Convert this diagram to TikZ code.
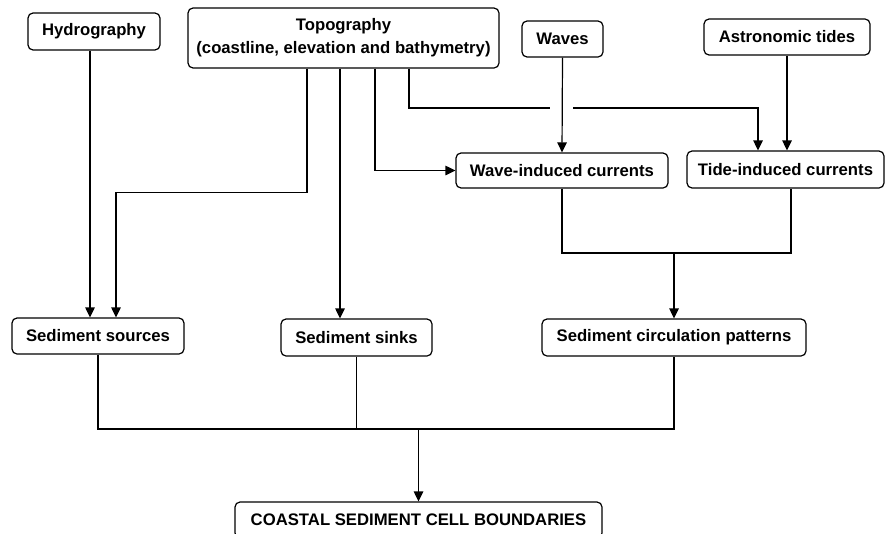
\documentclass[tikz,border=0pt]{standalone}
\usepackage{fontspec}
\setmainfont{Liberation Sans}
\usetikzlibrary{arrows.meta}
\begin{document}
\begin{tikzpicture}[x=1pt,y=-1pt,
  box/.style={draw, rounded corners=5pt, line width=1.2pt, inner sep=0pt, align=center,
    font=\fontsize{16.7}{23}\selectfont\bfseries},
  conn/.style={line width=1.2pt},
  arr/.style={conn, -{Triangle[length=10pt,width=9.5pt]}}]
\useasboundingbox (0,0) rectangle (885,533);
\clip (0,0) rectangle (885,533);
\node[box, minimum width=132pt, minimum height=37pt] (hydro) at (94,31.5) {Hydrography};
\node[box, minimum width=311pt, minimum height=60pt] (topo) at (343.5,38) {Topography\\(coastline, elevation and bathymetry)};
\node[box, minimum width=81pt, minimum height=36pt] (waves) at (562.5,39) {Waves};
\node[box, minimum width=166pt, minimum height=36pt] (astro) at (787,37) {Astronomic tides};
\node[box, minimum width=212pt, minimum height=35pt] (wave) at (562,170.5) {Wave-induced currents};
\node[box, minimum width=197pt, minimum height=37pt] (tide) at (785.5,169.5) {Tide-induced currents};
\node[box, minimum width=172pt, minimum height=36pt] (sources) at (98,336) {Sediment sources};
\node[box, minimum width=151pt, minimum height=37pt] (sinks) at (356.5,337.5) {Sediment sinks};
\node[box, minimum width=264pt, minimum height=37pt] (circ) at (674,337.5) {Sediment circulation patterns};
\node[box, minimum width=367pt, minimum height=36pt] (coastal) at (418.5,520) {COASTAL SEDIMENT CELL BOUNDARIES};
\coordinate (gapL) at (550,108);
\coordinate (gapR) at (573,108);
\coordinate (wt) at (674,253);
\coordinate (bus) at (418.5,429);
% top connectors
\draw[arr] ([xshift=-4pt]hydro.south) -- ([xshift=-8pt]sources.north);
\draw[arr] ([xshift=-36.5pt]topo.south) -- ++(0,124) -| ([xshift=18pt]sources.north);
\draw[arr] ([xshift=-3.5pt]topo.south) -- ([xshift=-16.5pt]sinks.north);
\draw[arr] ([xshift=31.5pt]topo.south) |- (wave.west);
\draw[conn] ([xshift=65.5pt]topo.south) |- (gapL);
\draw[arr] (gapR) -| ([xshift=-27.5pt]tide.north);
\draw[arr] (waves.south) -- (wave.north);
\draw[arr] (astro.south) -- ([xshift=1.5pt]tide.north);
% middle
\draw[conn] (wave.south) |- (wt) -| ([xshift=5.5pt]tide.south);
\draw[arr] (wt) -- (circ.north);
% bottom
\draw[conn] (sources.south) |- (bus) -| (circ.south);
\draw[conn] (sinks.south) -- (sinks.south |- bus);
\draw[arr] (bus) -- (coastal.north);
\end{tikzpicture}
\end{document}
